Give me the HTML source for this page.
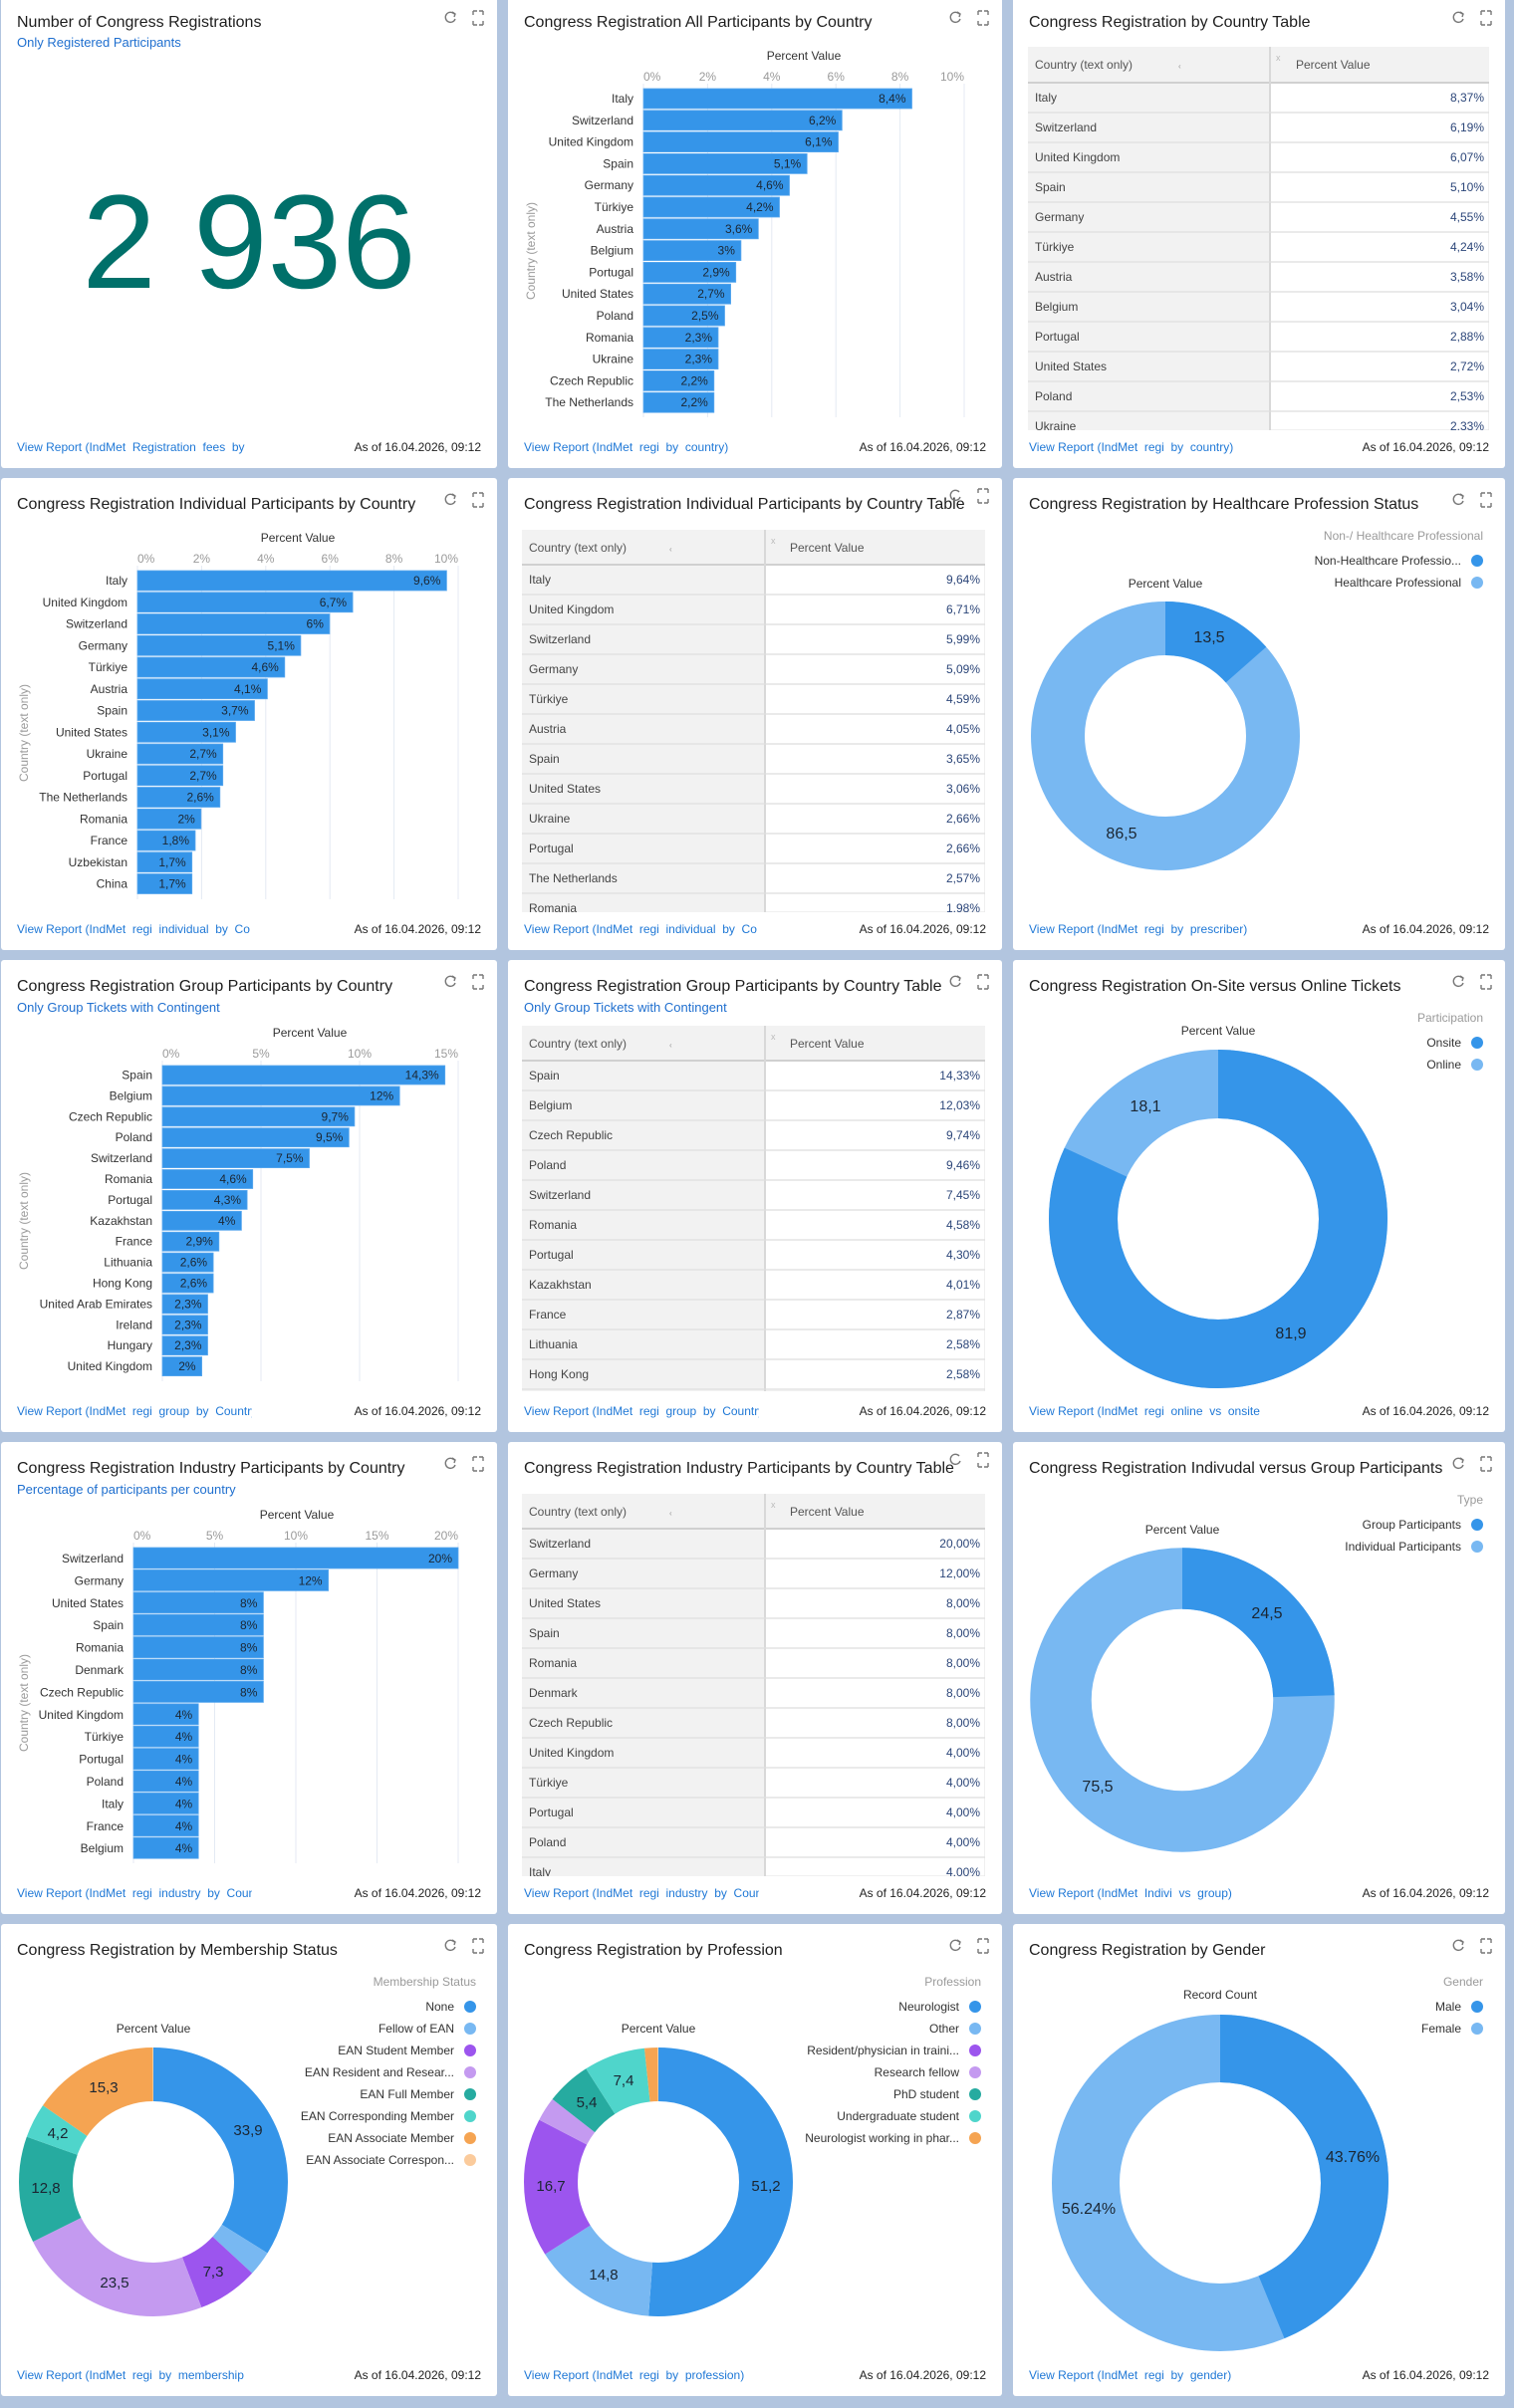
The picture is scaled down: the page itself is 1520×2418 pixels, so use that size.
<!DOCTYPE html>
<html><head><meta charset="utf-8">
<style>
html,body{margin:0;padding:0;}
body{width:1520px;height:2418px;background:#b2c5df;position:relative;overflow:hidden;font-family:"Liberation Sans",Arial,sans-serif;}
svg.p{position:absolute;overflow:hidden;}
svg text{font-family:"Liberation Sans",Arial,sans-serif;}
.t{font-size:16px;fill:#1e1e1e;}
.sub{font-size:13px;fill:#1f6fcf;}
.lnk{font-size:12px;fill:#1f78d6;white-space:pre;}
.asof{font-size:12px;fill:#222;text-anchor:end;}
.cl{font-size:12px;fill:#333;text-anchor:end;}
.bv{font-size:12px;fill:#1b2632;text-anchor:end;}
.b{fill:#3595e9;stroke:#5aa8ee;stroke-width:0.8;}
.tk{font-size:12px;fill:#9a9a9a;text-anchor:middle;}
.ax{font-size:12px;fill:#333;text-anchor:middle;}
.yt{font-size:12px;fill:#9a9a9a;text-anchor:middle;}
.g{stroke:#e4eaf3;stroke-width:1;}
.th{font-size:12px;fill:#555;}
.tc{font-size:12px;fill:#444;}
.tv{font-size:12px;fill:#2c4679;text-anchor:end;}
.lt{font-size:12px;fill:#9a9a9a;text-anchor:end;}
.le{font-size:12px;fill:#333;text-anchor:end;}
.pl{font-size:16px;fill:#1b2632;text-anchor:middle;}
.pl2{font-size:15px;fill:#1b2632;text-anchor:middle;}
.ic{stroke:#777;stroke-width:1.4;fill:none;}
</style></head><body>

<!-- ROW 1 -->
<svg class="p" style="left:1px;top:-4px" width="498" height="474">
<rect width="498" height="474" rx="3" fill="#fff"/>
<text class="t" x="16" y="31">Number of Congress Registrations</text>
<text class="sub" x="16" y="51">Only Registered Participants</text>
<g class="ic"><path d="M455 18a5 5 0 1 0 1 5"/><path d="M453 16l3 2-1 3"/><path d="M474 15v4M474 15h4M484 15v4M484 15h-4M474 29v-4M474 29h4M484 29v-4M484 29h-4"/></g>
<text x="249" y="293" font-size="134" fill="#00706a" text-anchor="middle">2 936</text>
<svg x="0" y="440" width="498" height="22"><text class="lnk" x="16" y="17">View Report (IndMet  Registration  fees  by</text></svg>
<text class="asof" x="482" y="457">As of 16.04.2026, 09:12</text>
</svg>

<svg class="p" style="left:510px;top:-4px" width="496" height="474">
<rect width="496" height="474" rx="3" fill="#fff"/>
<text class="t" x="16" y="31">Congress Registration All Participants by Country</text>
<g class="ic"><path d="M453 18a5 5 0 1 0 1 5"/><path d="M451 16l3 2-1 3"/><path d="M472 15v4M472 15h4M482 15v4M482 15h-4M472 29v-4M472 29h4M482 29v-4M482 29h-4"/></g>
<text class="ax" x="297" y="64">Percent Value</text>
<g class="tk"><text x="136" y="85" text-anchor="start">0%</text><text x="200.4" y="85">2%</text><text x="264.8" y="85">4%</text><text x="329.2" y="85">6%</text><text x="393.6" y="85">8%</text><text x="458" y="85" text-anchor="end">10%</text></g>
<g class="g"><line x1="136" y1="88" x2="136" y2="423"/><line x1="200.4" y1="88" x2="200.4" y2="423"/><line x1="264.8" y1="88" x2="264.8" y2="423"/><line x1="329.2" y1="88" x2="329.2" y2="423"/><line x1="393.6" y1="88" x2="393.6" y2="423"/><line x1="458" y1="88" x2="458" y2="423"/></g>
<text class="yt" transform="translate(27,256) rotate(-90)">Country (text only)</text>
<g transform="translate(0,93)"><text class="cl" x="126" y="14">Italy</text><rect class="b" x="136" width="269.5" height="20"/><text class="bv" x="399.5" y="14">8,4%</text></g>
<g transform="translate(0,114.8)"><text class="cl" x="126" y="14">Switzerland</text><rect class="b" x="136" width="199.3" height="20"/><text class="bv" x="329.3" y="14">6,2%</text></g>
<g transform="translate(0,136.6)"><text class="cl" x="126" y="14">United Kingdom</text><rect class="b" x="136" width="195.5" height="20"/><text class="bv" x="325.5" y="14">6,1%</text></g>
<g transform="translate(0,158.4)"><text class="cl" x="126" y="14">Spain</text><rect class="b" x="136" width="164.2" height="20"/><text class="bv" x="294.2" y="14">5,1%</text></g>
<g transform="translate(0,180.2)"><text class="cl" x="126" y="14">Germany</text><rect class="b" x="136" width="146.5" height="20"/><text class="bv" x="276.5" y="14">4,6%</text></g>
<g transform="translate(0,202)"><text class="cl" x="126" y="14">Türkiye</text><rect class="b" x="136" width="136.5" height="20"/><text class="bv" x="266.5" y="14">4,2%</text></g>
<g transform="translate(0,223.8)"><text class="cl" x="126" y="14">Austria</text><rect class="b" x="136" width="115.3" height="20"/><text class="bv" x="245.3" y="14">3,6%</text></g>
<g transform="translate(0,245.6)"><text class="cl" x="126" y="14">Belgium</text><rect class="b" x="136" width="97.9" height="20"/><text class="bv" x="227.9" y="14">3%</text></g>
<g transform="translate(0,267.4)"><text class="cl" x="126" y="14">Portugal</text><rect class="b" x="136" width="92.7" height="20"/><text class="bv" x="222.7" y="14">2,9%</text></g>
<g transform="translate(0,289.2)"><text class="cl" x="126" y="14">United States</text><rect class="b" x="136" width="87.6" height="20"/><text class="bv" x="217.6" y="14">2,7%</text></g>
<g transform="translate(0,311)"><text class="cl" x="126" y="14">Poland</text><rect class="b" x="136" width="81.5" height="20"/><text class="bv" x="211.5" y="14">2,5%</text></g>
<g transform="translate(0,332.8)"><text class="cl" x="126" y="14">Romania</text><rect class="b" x="136" width="75" height="20"/><text class="bv" x="205" y="14">2,3%</text></g>
<g transform="translate(0,354.6)"><text class="cl" x="126" y="14">Ukraine</text><rect class="b" x="136" width="75" height="20"/><text class="bv" x="205" y="14">2,3%</text></g>
<g transform="translate(0,376.4)"><text class="cl" x="126" y="14">Czech Republic</text><rect class="b" x="136" width="70.8" height="20"/><text class="bv" x="200.8" y="14">2,2%</text></g>
<g transform="translate(0,398.2)"><text class="cl" x="126" y="14">The Netherlands</text><rect class="b" x="136" width="70.8" height="20"/><text class="bv" x="200.8" y="14">2,2%</text></g>
<svg x="0" y="440" width="496" height="22"><text class="lnk" x="16" y="17">View Report (IndMet  regi  by  country)</text></svg>
<text class="asof" x="480" y="457">As of 16.04.2026, 09:12</text>
</svg>

<svg class="p" style="left:1017px;top:-4px" width="494" height="474">
<rect width="494" height="474" rx="3" fill="#fff"/>
<text class="t" x="16" y="31">Congress Registration by Country Table</text>
<g class="ic"><path d="M451 18a5 5 0 1 0 1 5"/><path d="M449 16l3 2-1 3"/><path d="M470 15v4M470 15h4M480 15v4M480 15h-4M470 29v-4M470 29h4M480 29v-4M480 29h-4"/></g>
<svg x="15" y="51" width="463" height="385">
<rect width="463" height="385" fill="#fff" stroke="#e2e2e2"/>
<rect width="243" height="385" fill="#f2f2f2"/>
<rect width="463" height="36" fill="#f2f2f2"/>
<line x1="0" y1="36" x2="463" y2="36" stroke="#d0d0d0" stroke-width="2"/>
<line x1="243" y1="0" x2="243" y2="385" stroke="#d8d8d8" stroke-width="2"/>
<text class="th" x="7" y="22">Country (text only)</text><text x="151" y="22" font-size="8" fill="#999">‹</text>
<text x="249" y="14" font-size="9" fill="#bbb">x</text><text class="th" x="269" y="22">Percent Value</text>
<g stroke="#dedede" stroke-width="1.2"><line x1="0" y1="66" x2="463" y2="66"/><line x1="0" y1="96" x2="463" y2="96"/><line x1="0" y1="126" x2="463" y2="126"/><line x1="0" y1="156" x2="463" y2="156"/><line x1="0" y1="186" x2="463" y2="186"/><line x1="0" y1="216" x2="463" y2="216"/><line x1="0" y1="246" x2="463" y2="246"/><line x1="0" y1="276" x2="463" y2="276"/><line x1="0" y1="306" x2="463" y2="306"/><line x1="0" y1="336" x2="463" y2="336"/><line x1="0" y1="366" x2="463" y2="366"/></g>
<text class="tc" x="7" y="55">Italy</text><text class="tv" x="458" y="55">8,37%</text>
<text class="tc" x="7" y="85">Switzerland</text><text class="tv" x="458" y="85">6,19%</text>
<text class="tc" x="7" y="115">United Kingdom</text><text class="tv" x="458" y="115">6,07%</text>
<text class="tc" x="7" y="145">Spain</text><text class="tv" x="458" y="145">5,10%</text>
<text class="tc" x="7" y="175">Germany</text><text class="tv" x="458" y="175">4,55%</text>
<text class="tc" x="7" y="205">Türkiye</text><text class="tv" x="458" y="205">4,24%</text>
<text class="tc" x="7" y="235">Austria</text><text class="tv" x="458" y="235">3,58%</text>
<text class="tc" x="7" y="265">Belgium</text><text class="tv" x="458" y="265">3,04%</text>
<text class="tc" x="7" y="295">Portugal</text><text class="tv" x="458" y="295">2,88%</text>
<text class="tc" x="7" y="325">United States</text><text class="tv" x="458" y="325">2,72%</text>
<text class="tc" x="7" y="355">Poland</text><text class="tv" x="458" y="355">2,53%</text>
<text class="tc" x="7" y="385">Ukraine</text><text class="tv" x="458" y="385">2,33%</text>
</svg>
<svg x="0" y="440" width="494" height="22"><text class="lnk" x="16" y="17">View Report (IndMet  regi  by  country)</text></svg>
<text class="asof" x="478" y="457">As of 16.04.2026, 09:12</text>
</svg>

<!-- ROW 2 -->
<svg class="p" style="left:1px;top:480px" width="498" height="474">
<rect width="498" height="474" rx="3" fill="#fff"/>
<text class="t" x="16" y="31">Congress Registration Individual Participants by Country</text>
<g class="ic"><path d="M455 18a5 5 0 1 0 1 5"/><path d="M453 16l3 2-1 3"/><path d="M474 15v4M474 15h4M484 15v4M484 15h-4M474 29v-4M474 29h4M484 29v-4M484 29h-4"/></g>
<text class="ax" x="298" y="64">Percent Value</text>
<g class="tk"><text x="137" y="85" text-anchor="start">0%</text><text x="201.4" y="85">2%</text><text x="265.8" y="85">4%</text><text x="330.2" y="85">6%</text><text x="394.6" y="85">8%</text><text x="459" y="85" text-anchor="end">10%</text></g>
<g class="g"><line x1="137" y1="88" x2="137" y2="423"/><line x1="201.4" y1="88" x2="201.4" y2="423"/><line x1="265.8" y1="88" x2="265.8" y2="423"/><line x1="330.2" y1="88" x2="330.2" y2="423"/><line x1="394.6" y1="88" x2="394.6" y2="423"/><line x1="459" y1="88" x2="459" y2="423"/></g>
<text class="yt" transform="translate(27,256) rotate(-90)">Country (text only)</text>
<g transform="translate(0,93)"><text class="cl" x="127" y="14">Italy</text><rect class="b" x="137" width="310.4" height="20"/><text class="bv" x="441.4" y="14">9,6%</text></g>
<g transform="translate(0,114.75)"><text class="cl" x="127" y="14">United Kingdom</text><rect class="b" x="137" width="216.1" height="20"/><text class="bv" x="347.1" y="14">6,7%</text></g>
<g transform="translate(0,136.5)"><text class="cl" x="127" y="14">Switzerland</text><rect class="b" x="137" width="192.9" height="20"/><text class="bv" x="323.9" y="14">6%</text></g>
<g transform="translate(0,158.25)"><text class="cl" x="127" y="14">Germany</text><rect class="b" x="137" width="163.9" height="20"/><text class="bv" x="294.9" y="14">5,1%</text></g>
<g transform="translate(0,180)"><text class="cl" x="127" y="14">Türkiye</text><rect class="b" x="137" width="147.8" height="20"/><text class="bv" x="278.8" y="14">4,6%</text></g>
<g transform="translate(0,201.75)"><text class="cl" x="127" y="14">Austria</text><rect class="b" x="137" width="130.4" height="20"/><text class="bv" x="261.4" y="14">4,1%</text></g>
<g transform="translate(0,223.5)"><text class="cl" x="127" y="14">Spain</text><rect class="b" x="137" width="117.5" height="20"/><text class="bv" x="248.5" y="14">3,7%</text></g>
<g transform="translate(0,245.25)"><text class="cl" x="127" y="14">United States</text><rect class="b" x="137" width="98.5" height="20"/><text class="bv" x="229.5" y="14">3,1%</text></g>
<g transform="translate(0,267)"><text class="cl" x="127" y="14">Ukraine</text><rect class="b" x="137" width="85.7" height="20"/><text class="bv" x="216.7" y="14">2,7%</text></g>
<g transform="translate(0,288.75)"><text class="cl" x="127" y="14">Portugal</text><rect class="b" x="137" width="85.7" height="20"/><text class="bv" x="216.7" y="14">2,7%</text></g>
<g transform="translate(0,310.5)"><text class="cl" x="127" y="14">The Netherlands</text><rect class="b" x="137" width="82.8" height="20"/><text class="bv" x="213.8" y="14">2,6%</text></g>
<g transform="translate(0,332.25)"><text class="cl" x="127" y="14">Romania</text><rect class="b" x="137" width="63.8" height="20"/><text class="bv" x="194.8" y="14">2%</text></g>
<g transform="translate(0,354)"><text class="cl" x="127" y="14">France</text><rect class="b" x="137" width="58" height="20"/><text class="bv" x="189" y="14">1,8%</text></g>
<g transform="translate(0,375.75)"><text class="cl" x="127" y="14">Uzbekistan</text><rect class="b" x="137" width="54.7" height="20"/><text class="bv" x="185.7" y="14">1,7%</text></g>
<g transform="translate(0,397.5)"><text class="cl" x="127" y="14">China</text><rect class="b" x="137" width="54.7" height="20"/><text class="bv" x="185.7" y="14">1,7%</text></g>
<svg x="0" y="440" width="498" height="22"><text class="lnk" x="16" y="17">View Report (IndMet  regi  individual  by  Co</text></svg>
<text class="asof" x="482" y="457">As of 16.04.2026, 09:12</text>
</svg>

<svg class="p" style="left:510px;top:480px" width="496" height="474">
<rect width="496" height="474" rx="3" fill="#fff"/>
<text class="t" x="16" y="31">Congress Registration Individual Participants by Country Table</text>
<g class="ic"><path d="M453 14a5 5 0 1 0 1 5"/><path d="M472 11v4M472 11h4M482 11v4M482 11h-4M472 25v-4M472 25h4M482 25v-4M482 25h-4"/></g>
<svg x="14" y="52" width="465" height="384">
<rect width="465" height="384" fill="#fff" stroke="#e2e2e2"/>
<rect width="244" height="384" fill="#f2f2f2"/>
<rect width="465" height="35" fill="#f2f2f2"/>
<line x1="0" y1="35" x2="465" y2="35" stroke="#d0d0d0" stroke-width="2"/>
<line x1="244" y1="0" x2="244" y2="384" stroke="#d8d8d8" stroke-width="2"/>
<text class="th" x="7" y="22">Country (text only)</text><text x="148" y="22" font-size="8" fill="#999">‹</text>
<text x="250" y="14" font-size="9" fill="#bbb">x</text><text class="th" x="269" y="22">Percent Value</text>
<g stroke="#dedede" stroke-width="1.2"><line x1="0" y1="65" x2="465" y2="65"/><line x1="0" y1="95" x2="465" y2="95"/><line x1="0" y1="125" x2="465" y2="125"/><line x1="0" y1="155" x2="465" y2="155"/><line x1="0" y1="185" x2="465" y2="185"/><line x1="0" y1="215" x2="465" y2="215"/><line x1="0" y1="245" x2="465" y2="245"/><line x1="0" y1="275" x2="465" y2="275"/><line x1="0" y1="305" x2="465" y2="305"/><line x1="0" y1="335" x2="465" y2="335"/><line x1="0" y1="365" x2="465" y2="365"/></g>
<text class="tc" x="7" y="54">Italy</text><text class="tv" x="460" y="54">9,64%</text>
<text class="tc" x="7" y="84">United Kingdom</text><text class="tv" x="460" y="84">6,71%</text>
<text class="tc" x="7" y="114">Switzerland</text><text class="tv" x="460" y="114">5,99%</text>
<text class="tc" x="7" y="144">Germany</text><text class="tv" x="460" y="144">5,09%</text>
<text class="tc" x="7" y="174">Türkiye</text><text class="tv" x="460" y="174">4,59%</text>
<text class="tc" x="7" y="204">Austria</text><text class="tv" x="460" y="204">4,05%</text>
<text class="tc" x="7" y="234">Spain</text><text class="tv" x="460" y="234">3,65%</text>
<text class="tc" x="7" y="264">United States</text><text class="tv" x="460" y="264">3,06%</text>
<text class="tc" x="7" y="294">Ukraine</text><text class="tv" x="460" y="294">2,66%</text>
<text class="tc" x="7" y="324">Portugal</text><text class="tv" x="460" y="324">2,66%</text>
<text class="tc" x="7" y="354">The Netherlands</text><text class="tv" x="460" y="354">2,57%</text>
<text class="tc" x="7" y="384">Romania</text><text class="tv" x="460" y="384">1,98%</text>
</svg>
<svg x="0" y="440" width="496" height="22"><text class="lnk" x="16" y="17">View Report (IndMet  regi  individual  by  Co</text></svg>
<text class="asof" x="480" y="457">As of 16.04.2026, 09:12</text>
</svg>

<svg class="p" style="left:1017px;top:480px" width="494" height="474">
<rect width="494" height="474" rx="3" fill="#fff"/>
<text class="t" x="16" y="31">Congress Registration by Healthcare Profession Status</text>
<g class="ic"><path d="M451 18a5 5 0 1 0 1 5"/><path d="M449 16l3 2-1 3"/><path d="M470 15v4M470 15h4M480 15v4M480 15h-4M470 29v-4M470 29h4M480 29v-4M480 29h-4"/></g>
<text class="lt" x="472" y="62">Non-/ Healthcare Professional</text>
<text class="le" x="450" y="87">Non-Healthcare Professio...</text><circle cx="466" cy="83" r="6" fill="#3595e9"/>
<text class="le" x="450" y="109">Healthcare Professional</text><circle cx="466" cy="105" r="6" fill="#78b8f2"/>
<text class="ax" x="153" y="110">Percent Value</text>
<g fill="none" stroke-width="54" transform="rotate(-90 153 259)">
<circle cx="153" cy="259" r="108" stroke="#78b8f2"/>
<circle cx="153" cy="259" r="108" stroke="#3595e9" pathLength="100" stroke-dasharray="13.5 100"/>
</g>
<text class="pl" x="197" y="165">13,5</text>
<text class="pl" x="109" y="362">86,5</text>
<svg x="0" y="440" width="494" height="22"><text class="lnk" x="16" y="17">View Report (IndMet  regi  by  prescriber)</text></svg>
<text class="asof" x="478" y="457">As of 16.04.2026, 09:12</text>
</svg>

<!-- ROW 3 -->
<svg class="p" style="left:1px;top:964px" width="498" height="474">
<rect width="498" height="474" rx="3" fill="#fff"/>
<text class="t" x="16" y="31">Congress Registration Group Participants by Country</text>
<text class="sub" x="16" y="52">Only Group Tickets with Contingent</text>
<g class="ic"><path d="M455 18a5 5 0 1 0 1 5"/><path d="M453 16l3 2-1 3"/><path d="M474 15v4M474 15h4M484 15v4M484 15h-4M474 29v-4M474 29h4M484 29v-4M484 29h-4"/></g>
<text class="ax" x="310" y="77">Percent Value</text>
<g class="tk"><text x="162" y="98" text-anchor="start">0%</text><text x="261" y="98">5%</text><text x="360" y="98">10%</text><text x="459" y="98" text-anchor="end">15%</text></g>
<g class="g"><line x1="162" y1="101" x2="162" y2="423"/><line x1="261" y1="101" x2="261" y2="423"/><line x1="360" y1="101" x2="360" y2="423"/><line x1="459" y1="101" x2="459" y2="423"/></g>
<text class="yt" transform="translate(27,262) rotate(-90)">Country (text only)</text>
<g transform="translate(0,106)"><text class="cl" x="152" y="13.5">Spain</text><rect class="b" x="162" width="283.7" height="19"/><text class="bv" x="439.7" y="13.5">14,3%</text></g>
<g transform="translate(0,126.9)"><text class="cl" x="152" y="13.5">Belgium</text><rect class="b" x="162" width="238.2" height="19"/><text class="bv" x="394.2" y="13.5">12%</text></g>
<g transform="translate(0,147.8)"><text class="cl" x="152" y="13.5">Czech Republic</text><rect class="b" x="162" width="192.9" height="19"/><text class="bv" x="348.9" y="13.5">9,7%</text></g>
<g transform="translate(0,168.7)"><text class="cl" x="152" y="13.5">Poland</text><rect class="b" x="162" width="187.3" height="19"/><text class="bv" x="343.3" y="13.5">9,5%</text></g>
<g transform="translate(0,189.6)"><text class="cl" x="152" y="13.5">Switzerland</text><rect class="b" x="162" width="147.5" height="19"/><text class="bv" x="303.5" y="13.5">7,5%</text></g>
<g transform="translate(0,210.5)"><text class="cl" x="152" y="13.5">Romania</text><rect class="b" x="162" width="90.7" height="19"/><text class="bv" x="246.7" y="13.5">4,6%</text></g>
<g transform="translate(0,231.4)"><text class="cl" x="152" y="13.5">Portugal</text><rect class="b" x="162" width="85.1" height="19"/><text class="bv" x="241.1" y="13.5">4,3%</text></g>
<g transform="translate(0,252.3)"><text class="cl" x="152" y="13.5">Kazakhstan</text><rect class="b" x="162" width="79.4" height="19"/><text class="bv" x="235.4" y="13.5">4%</text></g>
<g transform="translate(0,273.2)"><text class="cl" x="152" y="13.5">France</text><rect class="b" x="162" width="56.8" height="19"/><text class="bv" x="212.8" y="13.5">2,9%</text></g>
<g transform="translate(0,294.1)"><text class="cl" x="152" y="13.5">Lithuania</text><rect class="b" x="162" width="51.1" height="19"/><text class="bv" x="207.1" y="13.5">2,6%</text></g>
<g transform="translate(0,315)"><text class="cl" x="152" y="13.5">Hong Kong</text><rect class="b" x="162" width="51.1" height="19"/><text class="bv" x="207.1" y="13.5">2,6%</text></g>
<g transform="translate(0,335.9)"><text class="cl" x="152" y="13.5">United Arab Emirates</text><rect class="b" x="162" width="45.5" height="19"/><text class="bv" x="201.5" y="13.5">2,3%</text></g>
<g transform="translate(0,356.8)"><text class="cl" x="152" y="13.5">Ireland</text><rect class="b" x="162" width="45.5" height="19"/><text class="bv" x="201.5" y="13.5">2,3%</text></g>
<g transform="translate(0,377.7)"><text class="cl" x="152" y="13.5">Hungary</text><rect class="b" x="162" width="45.5" height="19"/><text class="bv" x="201.5" y="13.5">2,3%</text></g>
<g transform="translate(0,398.6)"><text class="cl" x="152" y="13.5">United Kingdom</text><rect class="b" x="162" width="39.6" height="19"/><text class="bv" x="195.6" y="13.5">2%</text></g>
<svg x="0" y="440" width="252" height="22"><text class="lnk" x="16" y="17">View Report (IndMet  regi  group  by  Country</text></svg>
<text class="asof" x="482" y="457">As of 16.04.2026, 09:12</text>
</svg>

<svg class="p" style="left:510px;top:964px" width="496" height="474">
<rect width="496" height="474" rx="3" fill="#fff"/>
<text class="t" x="16" y="31">Congress Registration Group Participants by Country Table</text>
<text class="sub" x="16" y="52">Only Group Tickets with Contingent</text>
<g class="ic"><path d="M453 18a5 5 0 1 0 1 5"/><path d="M451 16l3 2-1 3"/><path d="M472 15v4M472 15h4M482 15v4M482 15h-4M472 29v-4M472 29h4M482 29v-4M482 29h-4"/></g>
<svg x="14" y="66" width="465" height="367">
<rect width="465" height="367" fill="#fff" stroke="#e2e2e2"/>
<rect width="244" height="367" fill="#f2f2f2"/>
<rect width="465" height="35" fill="#f2f2f2"/>
<line x1="0" y1="35" x2="465" y2="35" stroke="#d0d0d0" stroke-width="2"/>
<line x1="244" y1="0" x2="244" y2="367" stroke="#d8d8d8" stroke-width="2"/>
<text class="th" x="7" y="22">Country (text only)</text><text x="148" y="22" font-size="8" fill="#999">‹</text>
<text x="250" y="14" font-size="9" fill="#bbb">x</text><text class="th" x="269" y="22">Percent Value</text>
<g stroke="#dedede" stroke-width="1.2"><line x1="0" y1="65" x2="465" y2="65"/><line x1="0" y1="95" x2="465" y2="95"/><line x1="0" y1="125" x2="465" y2="125"/><line x1="0" y1="155" x2="465" y2="155"/><line x1="0" y1="185" x2="465" y2="185"/><line x1="0" y1="215" x2="465" y2="215"/><line x1="0" y1="245" x2="465" y2="245"/><line x1="0" y1="275" x2="465" y2="275"/><line x1="0" y1="305" x2="465" y2="305"/><line x1="0" y1="335" x2="465" y2="335"/><line x1="0" y1="365" x2="465" y2="365"/></g>
<text class="tc" x="7" y="54">Spain</text><text class="tv" x="460" y="54">14,33%</text>
<text class="tc" x="7" y="84">Belgium</text><text class="tv" x="460" y="84">12,03%</text>
<text class="tc" x="7" y="114">Czech Republic</text><text class="tv" x="460" y="114">9,74%</text>
<text class="tc" x="7" y="144">Poland</text><text class="tv" x="460" y="144">9,46%</text>
<text class="tc" x="7" y="174">Switzerland</text><text class="tv" x="460" y="174">7,45%</text>
<text class="tc" x="7" y="204">Romania</text><text class="tv" x="460" y="204">4,58%</text>
<text class="tc" x="7" y="234">Portugal</text><text class="tv" x="460" y="234">4,30%</text>
<text class="tc" x="7" y="264">Kazakhstan</text><text class="tv" x="460" y="264">4,01%</text>
<text class="tc" x="7" y="294">France</text><text class="tv" x="460" y="294">2,87%</text>
<text class="tc" x="7" y="324">Lithuania</text><text class="tv" x="460" y="324">2,58%</text>
<text class="tc" x="7" y="354">Hong Kong</text><text class="tv" x="460" y="354">2,58%</text>
</svg>
<svg x="0" y="440" width="252" height="22"><text class="lnk" x="16" y="17">View Report (IndMet  regi  group  by  Country</text></svg>
<text class="asof" x="480" y="457">As of 16.04.2026, 09:12</text>
</svg>

<svg class="p" style="left:1017px;top:964px" width="494" height="474">
<rect width="494" height="474" rx="3" fill="#fff"/>
<text class="t" x="16" y="31">Congress Registration On-Site versus Online Tickets</text>
<g class="ic"><path d="M451 18a5 5 0 1 0 1 5"/><path d="M449 16l3 2-1 3"/><path d="M470 15v4M470 15h4M480 15v4M480 15h-4M470 29v-4M470 29h4M480 29v-4M480 29h-4"/></g>
<text class="lt" x="472" y="62">Participation</text>
<text class="le" x="450" y="87">Onsite</text><circle cx="466" cy="83" r="6" fill="#3595e9"/>
<text class="le" x="450" y="109">Online</text><circle cx="466" cy="105" r="6" fill="#78b8f2"/>
<text class="ax" x="206" y="75">Percent Value</text>
<g fill="none" stroke-width="69" transform="rotate(-90 206 260)">
<circle cx="206" cy="260" r="135.5" stroke="#78b8f2"/>
<circle cx="206" cy="260" r="135.5" stroke="#3595e9" pathLength="100" stroke-dasharray="81.9 100"/>
</g>
<text class="pl" x="279" y="380" font-size="17">81,9</text>
<text class="pl" x="133" y="152" font-size="17">18,1</text>
<svg x="0" y="440" width="494" height="22"><text class="lnk" x="16" y="17">View Report (IndMet  regi  online  vs  onsite</text></svg>
<text class="asof" x="478" y="457">As of 16.04.2026, 09:12</text>
</svg>

<!-- ROW 4 -->
<svg class="p" style="left:1px;top:1448px" width="498" height="474">
<rect width="498" height="474" rx="3" fill="#fff"/>
<text class="t" x="16" y="31">Congress Registration Industry Participants by Country</text>
<text class="sub" x="16" y="52">Percentage of participants per country</text>
<g class="ic"><path d="M455 18a5 5 0 1 0 1 5"/><path d="M453 16l3 2-1 3"/><path d="M474 15v4M474 15h4M484 15v4M484 15h-4M474 29v-4M474 29h4M484 29v-4M484 29h-4"/></g>
<text class="ax" x="297" y="77">Percent Value</text>
<g class="tk"><text x="133" y="98" text-anchor="start">0%</text><text x="214.5" y="98">5%</text><text x="296" y="98">10%</text><text x="377.5" y="98">15%</text><text x="459" y="98" text-anchor="end">20%</text></g>
<g class="g"><line x1="133" y1="101" x2="133" y2="423"/><line x1="214.5" y1="101" x2="214.5" y2="423"/><line x1="296" y1="101" x2="296" y2="423"/><line x1="377.5" y1="101" x2="377.5" y2="423"/><line x1="459" y1="101" x2="459" y2="423"/></g>
<text class="yt" transform="translate(27,262) rotate(-90)">Country (text only)</text>
<g transform="translate(0,106)"><text class="cl" x="123" y="15">Switzerland</text><rect class="b" x="133" width="326" height="21"/><text class="bv" x="453" y="15">20%</text></g>
<g transform="translate(0,128.4)"><text class="cl" x="123" y="15">Germany</text><rect class="b" x="133" width="195.6" height="21"/><text class="bv" x="322.6" y="15">12%</text></g>
<g transform="translate(0,150.8)"><text class="cl" x="123" y="15">United States</text><rect class="b" x="133" width="130.4" height="21"/><text class="bv" x="257.4" y="15">8%</text></g>
<g transform="translate(0,173.2)"><text class="cl" x="123" y="15">Spain</text><rect class="b" x="133" width="130.4" height="21"/><text class="bv" x="257.4" y="15">8%</text></g>
<g transform="translate(0,195.6)"><text class="cl" x="123" y="15">Romania</text><rect class="b" x="133" width="130.4" height="21"/><text class="bv" x="257.4" y="15">8%</text></g>
<g transform="translate(0,218)"><text class="cl" x="123" y="15">Denmark</text><rect class="b" x="133" width="130.4" height="21"/><text class="bv" x="257.4" y="15">8%</text></g>
<g transform="translate(0,240.4)"><text class="cl" x="123" y="15">Czech Republic</text><rect class="b" x="133" width="130.4" height="21"/><text class="bv" x="257.4" y="15">8%</text></g>
<g transform="translate(0,262.8)"><text class="cl" x="123" y="15">United Kingdom</text><rect class="b" x="133" width="65.2" height="21"/><text class="bv" x="192.2" y="15">4%</text></g>
<g transform="translate(0,285.2)"><text class="cl" x="123" y="15">Türkiye</text><rect class="b" x="133" width="65.2" height="21"/><text class="bv" x="192.2" y="15">4%</text></g>
<g transform="translate(0,307.6)"><text class="cl" x="123" y="15">Portugal</text><rect class="b" x="133" width="65.2" height="21"/><text class="bv" x="192.2" y="15">4%</text></g>
<g transform="translate(0,330)"><text class="cl" x="123" y="15">Poland</text><rect class="b" x="133" width="65.2" height="21"/><text class="bv" x="192.2" y="15">4%</text></g>
<g transform="translate(0,352.4)"><text class="cl" x="123" y="15">Italy</text><rect class="b" x="133" width="65.2" height="21"/><text class="bv" x="192.2" y="15">4%</text></g>
<g transform="translate(0,374.8)"><text class="cl" x="123" y="15">France</text><rect class="b" x="133" width="65.2" height="21"/><text class="bv" x="192.2" y="15">4%</text></g>
<g transform="translate(0,397.2)"><text class="cl" x="123" y="15">Belgium</text><rect class="b" x="133" width="65.2" height="21"/><text class="bv" x="192.2" y="15">4%</text></g>
<svg x="0" y="440" width="252" height="22"><text class="lnk" x="16" y="17">View Report (IndMet  regi  industry  by  Country</text></svg>
<text class="asof" x="482" y="457">As of 16.04.2026, 09:12</text>
</svg>

<svg class="p" style="left:510px;top:1448px" width="496" height="474">
<rect width="496" height="474" rx="3" fill="#fff"/>
<text class="t" x="16" y="31">Congress Registration Industry Participants by Country Table</text>
<g class="ic"><path d="M453 14a5 5 0 1 0 1 5"/><path d="M472 11v4M472 11h4M482 11v4M482 11h-4M472 25v-4M472 25h4M482 25v-4M482 25h-4"/></g>
<svg x="14" y="52" width="465" height="384">
<rect width="465" height="384" fill="#fff" stroke="#e2e2e2"/>
<rect width="244" height="384" fill="#f2f2f2"/>
<rect width="465" height="35" fill="#f2f2f2"/>
<line x1="0" y1="35" x2="465" y2="35" stroke="#d0d0d0" stroke-width="2"/>
<line x1="244" y1="0" x2="244" y2="384" stroke="#d8d8d8" stroke-width="2"/>
<text class="th" x="7" y="22">Country (text only)</text><text x="148" y="22" font-size="8" fill="#999">‹</text>
<text x="250" y="14" font-size="9" fill="#bbb">x</text><text class="th" x="269" y="22">Percent Value</text>
<g stroke="#dedede" stroke-width="1.2"><line x1="0" y1="65" x2="465" y2="65"/><line x1="0" y1="95" x2="465" y2="95"/><line x1="0" y1="125" x2="465" y2="125"/><line x1="0" y1="155" x2="465" y2="155"/><line x1="0" y1="185" x2="465" y2="185"/><line x1="0" y1="215" x2="465" y2="215"/><line x1="0" y1="245" x2="465" y2="245"/><line x1="0" y1="275" x2="465" y2="275"/><line x1="0" y1="305" x2="465" y2="305"/><line x1="0" y1="335" x2="465" y2="335"/><line x1="0" y1="365" x2="465" y2="365"/></g>
<text class="tc" x="7" y="54">Switzerland</text><text class="tv" x="460" y="54">20,00%</text>
<text class="tc" x="7" y="84">Germany</text><text class="tv" x="460" y="84">12,00%</text>
<text class="tc" x="7" y="114">United States</text><text class="tv" x="460" y="114">8,00%</text>
<text class="tc" x="7" y="144">Spain</text><text class="tv" x="460" y="144">8,00%</text>
<text class="tc" x="7" y="174">Romania</text><text class="tv" x="460" y="174">8,00%</text>
<text class="tc" x="7" y="204">Denmark</text><text class="tv" x="460" y="204">8,00%</text>
<text class="tc" x="7" y="234">Czech Republic</text><text class="tv" x="460" y="234">8,00%</text>
<text class="tc" x="7" y="264">United Kingdom</text><text class="tv" x="460" y="264">4,00%</text>
<text class="tc" x="7" y="294">Türkiye</text><text class="tv" x="460" y="294">4,00%</text>
<text class="tc" x="7" y="324">Portugal</text><text class="tv" x="460" y="324">4,00%</text>
<text class="tc" x="7" y="354">Poland</text><text class="tv" x="460" y="354">4,00%</text>
<text class="tc" x="7" y="384">Italy</text><text class="tv" x="460" y="384">4,00%</text>
</svg>
<svg x="0" y="440" width="252" height="22"><text class="lnk" x="16" y="17">View Report (IndMet  regi  industry  by  Country</text></svg>
<text class="asof" x="480" y="457">As of 16.04.2026, 09:12</text>
</svg>

<svg class="p" style="left:1017px;top:1448px" width="494" height="474">
<rect width="494" height="474" rx="3" fill="#fff"/>
<text class="t" x="16" y="31">Congress Registration Indivudal versus Group Participants</text>
<g class="ic"><path d="M451 18a5 5 0 1 0 1 5"/><path d="M449 16l3 2-1 3"/><path d="M470 15v4M470 15h4M480 15v4M480 15h-4M470 29v-4M470 29h4M480 29v-4M480 29h-4"/></g>
<text class="lt" x="472" y="62">Type</text>
<text class="le" x="450" y="87">Group Participants</text><circle cx="466" cy="83" r="6" fill="#3595e9"/>
<text class="le" x="450" y="109">Individual Participants</text><circle cx="466" cy="105" r="6" fill="#78b8f2"/>
<text class="ax" x="170" y="92">Percent Value</text>
<g fill="none" stroke-width="61.5" transform="rotate(-90 170 259)">
<circle cx="170" cy="259" r="122" stroke="#78b8f2"/>
<circle cx="170" cy="259" r="122" stroke="#3595e9" pathLength="100" stroke-dasharray="24.5 100"/>
</g>
<text class="pl" x="255" y="177" font-size="17">24,5</text>
<text class="pl" x="85" y="351" font-size="17">75,5</text>
<svg x="0" y="440" width="494" height="22"><text class="lnk" x="16" y="17">View Report (IndMet  Indivi  vs  group)</text></svg>
<text class="asof" x="478" y="457">As of 16.04.2026, 09:12</text>
</svg>

<!-- ROW 5 -->
<svg class="p" style="left:1px;top:1932px" width="498" height="474">
<rect width="498" height="474" rx="3" fill="#fff"/>
<text class="t" x="16" y="31">Congress Registration by Membership Status</text>
<g class="ic"><path d="M455 18a5 5 0 1 0 1 5"/><path d="M453 16l3 2-1 3"/><path d="M474 15v4M474 15h4M484 15v4M484 15h-4M474 29v-4M474 29h4M484 29v-4M484 29h-4"/></g>
<text class="lt" x="477" y="62">Membership Status</text>
<text class="le" x="455" y="87">None</text><circle cx="471" cy="83" r="6" fill="#3595e9"/>
<text class="le" x="455" y="109">Fellow of EAN</text><circle cx="471" cy="105" r="6" fill="#78b8f2"/>
<text class="le" x="455" y="131">EAN Student Member</text><circle cx="471" cy="127" r="6" fill="#9c55ee"/>
<text class="le" x="455" y="153">EAN Resident and Resear...</text><circle cx="471" cy="149" r="6" fill="#c49af0"/>
<text class="le" x="455" y="175">EAN Full Member</text><circle cx="471" cy="171" r="6" fill="#26aba0"/>
<text class="le" x="455" y="197">EAN Corresponding Member</text><circle cx="471" cy="193" r="6" fill="#4fd5cb"/>
<text class="le" x="455" y="219">EAN Associate Member</text><circle cx="471" cy="215" r="6" fill="#f5a452"/>
<text class="le" x="455" y="241">EAN Associate Correspon...</text><circle cx="471" cy="237" r="6" fill="#fbcb9c"/>
<text class="ax" x="153" y="109">Percent Value</text>
<g fill="none" stroke-width="54" transform="rotate(-90 153 259)">
<circle cx="153" cy="259" r="108" stroke="#3595e9" pathLength="100" stroke-dasharray="33.9 100"/>
<circle cx="153" cy="259" r="108" stroke="#78b8f2" pathLength="100" stroke-dasharray="3 100" stroke-dashoffset="-33.9"/>
<circle cx="153" cy="259" r="108" stroke="#9c55ee" pathLength="100" stroke-dasharray="7.3 100" stroke-dashoffset="-36.9"/>
<circle cx="153" cy="259" r="108" stroke="#c49af0" pathLength="100" stroke-dasharray="23.5 100" stroke-dashoffset="-44.2"/>
<circle cx="153" cy="259" r="108" stroke="#26aba0" pathLength="100" stroke-dasharray="12.8 100" stroke-dashoffset="-67.7"/>
<circle cx="153" cy="259" r="108" stroke="#4fd5cb" pathLength="100" stroke-dasharray="4.2 100" stroke-dashoffset="-80.5"/>
<circle cx="153" cy="259" r="108" stroke="#f5a452" pathLength="100" stroke-dasharray="15.3 100" stroke-dashoffset="-84.7"/>
</g>
<text class="pl2" x="248" y="212">33,9</text>
<text class="pl2" x="213" y="354">7,3</text>
<text class="pl2" x="114" y="365">23,5</text>
<text class="pl2" x="45" y="270">12,8</text>
<text class="pl2" x="57" y="215">4,2</text>
<text class="pl2" x="103" y="169">15,3</text>
<svg x="0" y="440" width="498" height="22"><text class="lnk" x="16" y="17">View Report (IndMet  regi  by  membership</text></svg>
<text class="asof" x="482" y="457">As of 16.04.2026, 09:12</text>
</svg>

<svg class="p" style="left:510px;top:1932px" width="496" height="474">
<rect width="496" height="474" rx="3" fill="#fff"/>
<text class="t" x="16" y="31">Congress Registration by Profession</text>
<g class="ic"><path d="M453 18a5 5 0 1 0 1 5"/><path d="M451 16l3 2-1 3"/><path d="M472 15v4M472 15h4M482 15v4M482 15h-4M472 29v-4M472 29h4M482 29v-4M482 29h-4"/></g>
<text class="lt" x="475" y="62">Profession</text>
<text class="le" x="453" y="87">Neurologist</text><circle cx="469" cy="83" r="6" fill="#3595e9"/>
<text class="le" x="453" y="109">Other</text><circle cx="469" cy="105" r="6" fill="#78b8f2"/>
<text class="le" x="453" y="131">Resident/physician in traini...</text><circle cx="469" cy="127" r="6" fill="#9c55ee"/>
<text class="le" x="453" y="153">Research fellow</text><circle cx="469" cy="149" r="6" fill="#c49af0"/>
<text class="le" x="453" y="175">PhD student</text><circle cx="469" cy="171" r="6" fill="#26aba0"/>
<text class="le" x="453" y="197">Undergraduate student</text><circle cx="469" cy="193" r="6" fill="#4fd5cb"/>
<text class="le" x="453" y="219">Neurologist working in phar...</text><circle cx="469" cy="215" r="6" fill="#f5a452"/>
<text class="ax" x="151" y="109">Percent Value</text>
<g fill="none" stroke-width="54" transform="rotate(-90 151 259)">
<circle cx="151" cy="259" r="108" stroke="#3595e9" pathLength="100" stroke-dasharray="51.2 100"/>
<circle cx="151" cy="259" r="108" stroke="#78b8f2" pathLength="100" stroke-dasharray="14.8 100" stroke-dashoffset="-51.2"/>
<circle cx="151" cy="259" r="108" stroke="#9c55ee" pathLength="100" stroke-dasharray="16.7 100" stroke-dashoffset="-66"/>
<circle cx="151" cy="259" r="108" stroke="#c49af0" pathLength="100" stroke-dasharray="2.9 100" stroke-dashoffset="-82.7"/>
<circle cx="151" cy="259" r="108" stroke="#26aba0" pathLength="100" stroke-dasharray="5.4 100" stroke-dashoffset="-85.6"/>
<circle cx="151" cy="259" r="108" stroke="#4fd5cb" pathLength="100" stroke-dasharray="7.4 100" stroke-dashoffset="-91"/>
<circle cx="151" cy="259" r="108" stroke="#f5a452" pathLength="100" stroke-dasharray="1.6 100" stroke-dashoffset="-98.4"/>
</g>
<text class="pl2" x="259" y="268">51,2</text>
<text class="pl2" x="96" y="357">14,8</text>
<text class="pl2" x="43" y="268">16,7</text>
<text class="pl2" x="79" y="184">5,4</text>
<text class="pl2" x="116" y="162">7,4</text>
<svg x="0" y="440" width="496" height="22"><text class="lnk" x="16" y="17">View Report (IndMet  regi  by  profession)</text></svg>
<text class="asof" x="480" y="457">As of 16.04.2026, 09:12</text>
</svg>

<svg class="p" style="left:1017px;top:1932px" width="494" height="474">
<rect width="494" height="474" rx="3" fill="#fff"/>
<text class="t" x="16" y="31">Congress Registration by Gender</text>
<g class="ic"><path d="M451 18a5 5 0 1 0 1 5"/><path d="M449 16l3 2-1 3"/><path d="M470 15v4M470 15h4M480 15v4M480 15h-4M470 29v-4M470 29h4M480 29v-4M480 29h-4"/></g>
<text class="lt" x="472" y="62">Gender</text>
<text class="le" x="450" y="87">Male</text><circle cx="466" cy="83" r="6" fill="#3595e9"/>
<text class="le" x="450" y="109">Female</text><circle cx="466" cy="105" r="6" fill="#78b8f2"/>
<text class="ax" x="208" y="75">Record Count</text>
<g fill="none" stroke-width="68" transform="rotate(-90 208 260)">
<circle cx="208" cy="260" r="135" stroke="#78b8f2"/>
<circle cx="208" cy="260" r="135" stroke="#3595e9" pathLength="100" stroke-dasharray="43.76 100"/>
</g>
<text class="pl" x="341" y="239">43.76%</text>
<text class="pl" x="76" y="291">56.24%</text>
<svg x="0" y="440" width="494" height="22"><text class="lnk" x="16" y="17">View Report (IndMet  regi  by  gender)</text></svg>
<text class="asof" x="478" y="457">As of 16.04.2026, 09:12</text>
</svg>

</body></html>
